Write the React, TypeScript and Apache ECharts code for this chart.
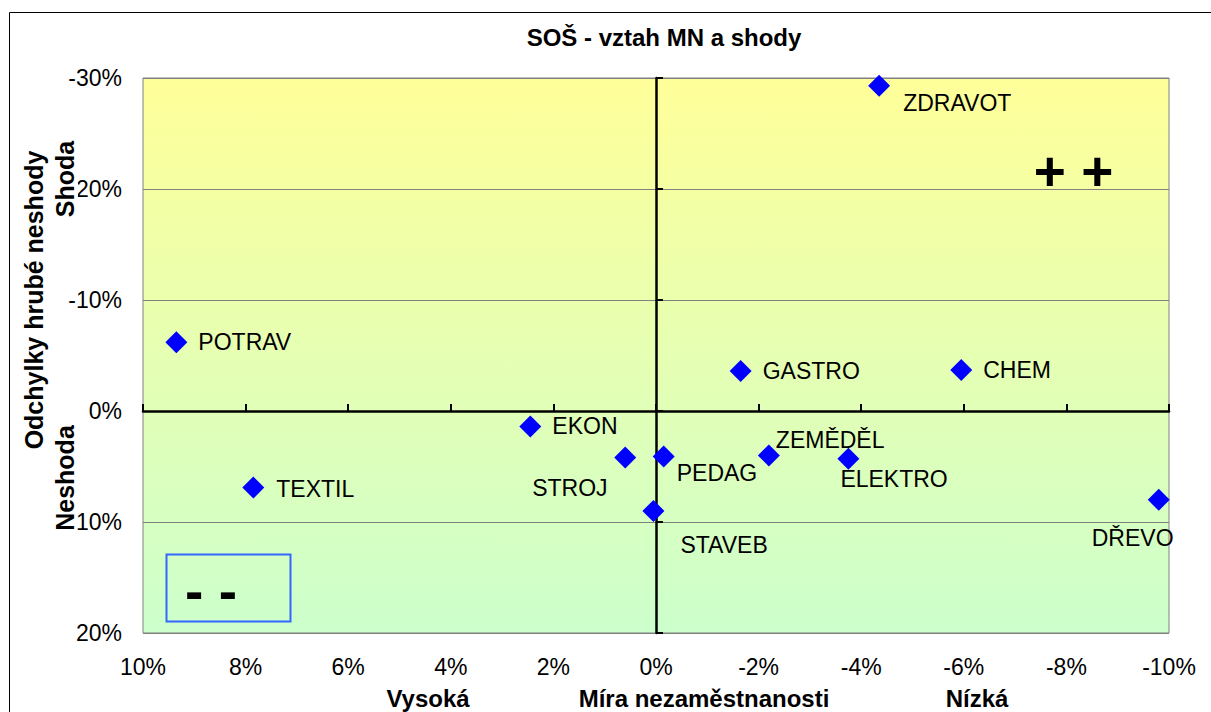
import React, { useEffect, useRef } from 'react';
import * as echarts from 'echarts';

const FONT = '"Liberation Sans", Arial, Helvetica, sans-serif';

// Study fields (data labels)
const categories = ['ZDRAVOT', 'POTRAV', 'GASTRO', 'CHEM', 'EKON', 'STROJ', 'PEDAG', 'ZEMĚDĚL', 'ELEKTRO', 'STAVEB', 'TEXTIL', 'DŘEVO'];
// Míra nezaměstnanosti (%), x value
const unemployment = [-4.35, 9.35, -1.65, -5.95, 2.45, 0.6, -0.15, -2.2, -3.75, 0.05, 7.85, -9.8];
// Odchylky hrubé neshody (%), y value
const deviation = [-29.3, -6.2, -3.6, -3.7, 1.4, 4.2, 4.1, 4.0, 4.3, 9.0, 6.9, 8.0];

// label placement (style): offset of label's left/middle from the point centre
const labelOffsets: Record<string, [number, number]> = {
  'ZDRAVOT': [24, 17],
  'POTRAV': [22, 0],
  'GASTRO': [22, 0],
  'CHEM': [22, 0],
  'EKON': [22, -1],
  'STROJ': [-93, 30],
  'PEDAG': [13, 16],
  'ZEMĚDĚL': [7, -15],
  'ELEKTRO': [-8, 20],
  'STAVEB': [27, 34],
  'TEXTIL': [23, 1],
  'DŘEVO': [-67, 38],
};

const pct = (v: number) => `${v}%`;

export default function App() {
  const ref = useRef<HTMLDivElement>(null);
  useEffect(() => {
    document.body.style.margin = '0';
    if (!ref.current) return;
    const chart = echarts.init(ref.current, null, { renderer: 'svg' });
    const option: any = {
      animation: false,
      backgroundColor: '#ffffff',
      textStyle: { fontFamily: FONT },
      grid: {
        left: 143, top: 78, width: 1026, height: 555,
        show: true,
        borderColor: '#808080',
        borderWidth: 1,
        backgroundColor: new echarts.graphic.LinearGradient(0, 0, 0, 1, [
          { offset: 0, color: '#FFFF99' },
          { offset: 1, color: '#CCFFCC' },
        ]),
      },
      xAxis: [
        {
          type: 'value', min: -10, max: 10, interval: 2, inverse: true, position: 'bottom',
          axisLine: { show: false, onZero: false },
          axisTick: { show: false },
          splitLine: { show: false },
          axisLabel: { formatter: pct, fontSize: 23, color: '#000', margin: 22, fontFamily: FONT },
        },
        {
          type: 'value', min: -10, max: 10, interval: 2, inverse: true, position: 'top',
          axisLine: { show: true, onZero: true, lineStyle: { color: '#000', width: 2.5 } },
          axisTick: { show: true, length: 7, lineStyle: { color: '#000', width: 2 } },
          axisLabel: { show: false },
          splitLine: { show: false },
        },
      ],
      yAxis: [
        {
          type: 'value', min: -30, max: 20, interval: 10, inverse: true, position: 'left',
          axisLine: { show: false, onZero: false },
          axisTick: { show: false },
          splitLine: { show: true, lineStyle: { color: '#808080', width: 1 } },
          axisLabel: { formatter: pct, fontSize: 23, color: '#000', margin: 21, fontFamily: FONT },
        },
        {
          type: 'value', min: -30, max: 20, interval: 10, inverse: true, position: 'right',
          axisLine: { show: true, onZero: true, lineStyle: { color: '#000', width: 2.5 } },
          axisTick: { show: true, length: 7, lineStyle: { color: '#000', width: 2 } },
          axisLabel: { show: false },
          splitLine: { show: false },
        },
      ],
      series: [
        {
          type: 'scatter',
          xAxisIndex: 0,
          yAxisIndex: 0,
          symbol: 'diamond',
          symbolSize: 22,
          itemStyle: { color: '#0000FF', opacity: 1 },
          z: 5,
          label: {
            show: true,
            position: 'inside',
            align: 'left',
            verticalAlign: 'middle',
            formatter: '{b}',
            fontSize: 23,
            color: '#000',
            fontFamily: FONT,
          },
          data: categories.map((name, i) => ({
            name,
            value: [unemployment[i], deviation[i]],
            label: { offset: labelOffsets[name] },
          })),
        },
      ],
      graphic: [
        {
          type: 'rect', z: 50, silent: true,
          shape: { x: 9.5, y: 12.5, width: 1215, height: 720 },
          style: { fill: 'none', stroke: '#000', lineWidth: 1 },
        },
        {
          type: 'text', z: 50, x: 664, y: 37,
          style: { text: 'SOŠ - vztah MN a shody', font: `bold 24px ${FONT}`, fill: '#000', align: 'center', verticalAlign: 'middle' },
        },
        {
          type: 'text', z: 50, x: 428, y: 698,
          style: { text: 'Vysoká', font: `bold 24px ${FONT}`, fill: '#000', align: 'center', verticalAlign: 'middle' },
        },
        {
          type: 'text', z: 50, x: 704, y: 698,
          style: { text: 'Míra nezaměstnanosti', font: `bold 24px ${FONT}`, fill: '#000', align: 'center', verticalAlign: 'middle' },
        },
        {
          type: 'text', z: 50, x: 977, y: 698,
          style: { text: 'Nízká', font: `bold 24px ${FONT}`, fill: '#000', align: 'center', verticalAlign: 'middle' },
        },
        {
          type: 'text', z: 50, x: 34, y: 300, rotation: Math.PI / 2,
          style: { text: 'Odchylky hrubé neshody', font: `bold 25px ${FONT}`, fill: '#000', align: 'center', verticalAlign: 'middle' },
        },
        {
          type: 'text', z: 60, x: 64.5, y: 179, rotation: Math.PI / 2,
          style: { text: 'Shoda', font: `bold 25px ${FONT}`, fill: '#000', align: 'center', verticalAlign: 'middle', backgroundColor: '#ffffff', padding: [1, 0] },
        },
        {
          type: 'text', z: 50, x: 64.5, y: 478, rotation: Math.PI / 2,
          style: { text: 'Neshoda', font: `bold 25px ${FONT}`, fill: '#000', align: 'center', verticalAlign: 'middle' },
        },
        {
          type: 'text', z: 50, x: 1073.5, y: 170.5,
          style: { text: '+ +', font: `bold 55px ${FONT}`, fill: '#000', align: 'center', verticalAlign: 'middle' },
        },
        {
          type: 'rect', z: 50, silent: true,
          shape: { x: 166.5, y: 554.5, width: 124, height: 67 },
          style: { fill: 'none', stroke: '#3366FF', lineWidth: 2 },
        },
        {
          type: 'text', z: 50, x: 211, y: 591,
          style: { text: '- -', font: `bold 55px ${FONT}`, fill: '#000', align: 'center', verticalAlign: 'middle' },
        },
      ],
    };
    chart.setOption(option);
    return () => chart.dispose();
  }, []);
  return <div ref={ref} style={{ width: 1211, height: 712 }} />;
}
